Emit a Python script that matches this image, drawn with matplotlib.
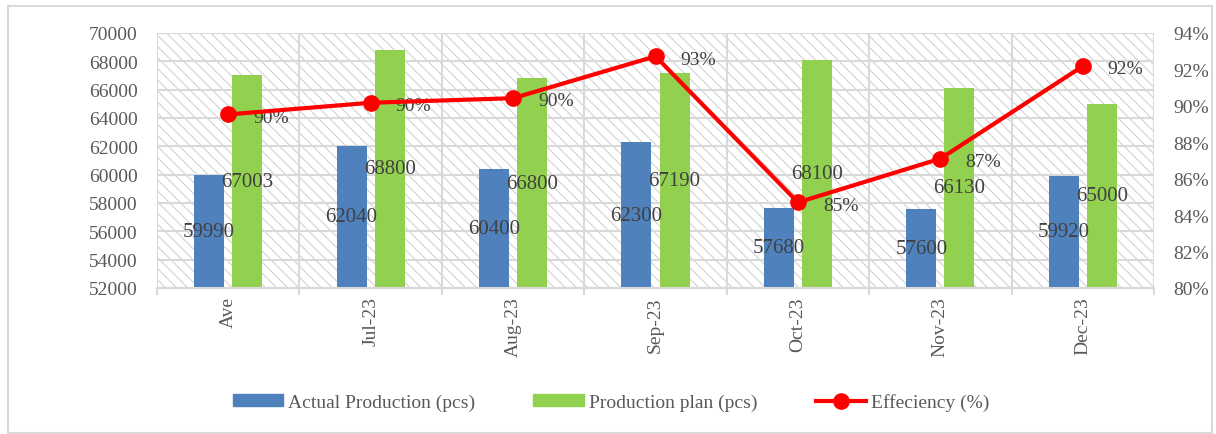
import matplotlib.pyplot as plt
from matplotlib.patches import Rectangle
from matplotlib.lines import Line2D
from matplotlib.ticker import FixedLocator

# data
months = ['Ave', 'Jul-23', 'Aug-23', 'Sep-23', 'Oct-23', 'Nov-23', 'Dec-23']
actual = [59990, 62040, 60400, 62300, 57680, 57600, 59920]
plan = [67003, 68800, 66800, 67190, 68100, 66130, 65000]
efficiency = [89.53, 90.17, 90.42, 92.72, 84.70, 87.10, 92.18]

blue = '#4F81BD'
green = '#92D050'
red = '#FF0000'
grid_col = '#D9D9D9'
tick_col = '#595959'
label_col = '#404040'

plt.rcParams['font.family'] = ['Liberation Serif', 'DejaVu Serif']
plt.rcParams['hatch.linewidth'] = 0.8

fig = plt.figure(figsize=(12.16, 4.35), dpi=100)
ax = fig.add_axes([157/1216, 1 - 289/435, (1154 - 157)/1216, (289 - 34)/435])
ax2 = ax.twinx()

# hatched background
ax.add_patch(Rectangle((0, 0), 1, 1, transform=ax.transAxes, facecolor='white',
                       edgecolor='#D2D2D2', hatch='\\\\\\', lw=0, zorder=0))

xs = list(range(len(months)))
w = 0.21
off = 0.134
b1 = ax.bar([x - off for x in xs], actual, width=w, color=blue, zorder=3,
            label='Actual Production (pcs)')
b2 = ax.bar([x + off for x in xs], plan, width=w, color=green, zorder=3,
            label='Production plan (pcs)')

ax.set_ylim(52000, 70000)
ax.set_yticks(range(52000, 70001, 2000))
ax.set_xlim(-0.5, len(months) - 0.5)
ax.set_xticks(xs)
ax.set_xticklabels(months, rotation=90)
ax.xaxis.set_minor_locator(FixedLocator([x - 0.5 for x in range(len(months) + 1)]))

ax.grid(axis='y', color=grid_col, lw=1.5, zorder=1)
ax.grid(axis='x', which='minor', color=grid_col, lw=1.5, zorder=1)
ax.set_axisbelow(True)

for a in (ax, ax2):
    for s in ('top', 'left', 'right'):
        a.spines[s].set_visible(False)
    a.spines['bottom'].set_color(grid_col)
    a.spines['bottom'].set_linewidth(1.5)

ax.tick_params(axis='y', length=0, pad=14, labelsize=14, labelcolor=tick_col)
ax.tick_params(axis='x', which='major', length=0, pad=6, labelsize=14, labelcolor=tick_col)
ax.tick_params(axis='x', which='minor', length=5, width=1.5, color=grid_col)

ax.bar_label(b1, labels=[str(v) for v in actual], label_type='center',
             fontsize=15, color=label_col)
ax.bar_label(b2, labels=[str(v) for v in plan], label_type='center',
             fontsize=15, color=label_col)

# efficiency line
ax2.plot(xs, efficiency, color=red, lw=3, marker='o', markersize=11, zorder=5)
ax2.set_ylim(80, 94)
ax2.set_yticks(range(80, 95, 2))
ax2.set_yticklabels([f'{v}%' for v in range(80, 95, 2)])
ax2.tick_params(axis='y', length=0, pad=14, labelsize=14, labelcolor=tick_col)
for x, v in zip(xs, efficiency):
    ax2.annotate(f'{v:.0f}%', (x, v), xytext=(18, -2), textcoords='offset points',
                 ha='left', va='center', fontsize=14, color=label_col)

handles = [Rectangle((0, 0), 1, 1, color=blue),
           Rectangle((0, 0), 1, 1, color=green),
           Line2D([], [], color=red, lw=3, marker='o', markersize=11)]
fig.legend(handles, ['Actual Production (pcs)', 'Production plan (pcs)', 'Effeciency (%)'],
           loc='center', bbox_to_anchor=(611/1216, 1 - 403/435), ncol=3, frameon=False,
           fontsize=14, labelcolor=tick_col, handlelength=2.6, handleheight=0.55,
           handletextpad=0.25, columnspacing=3.0)

# outer chart border
fig.patches.append(Rectangle((8/1216, 1/435), 1204/1216, 427/435, transform=fig.transFigure,
                             fill=False, edgecolor=grid_col, lw=1.5))

fig.savefig('out.png', dpi=100)
